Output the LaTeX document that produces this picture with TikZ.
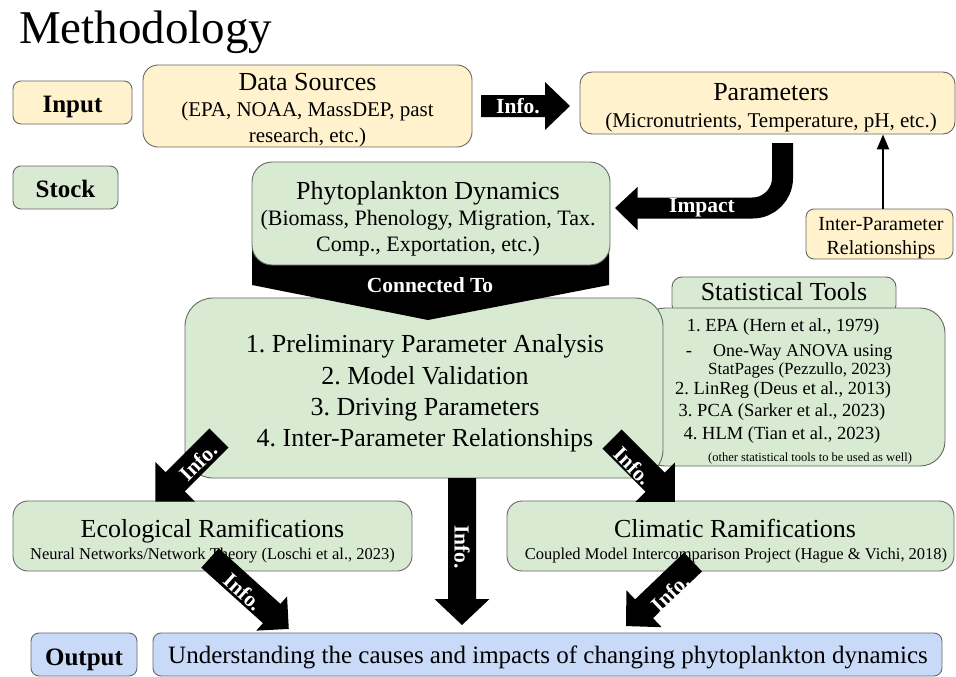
\documentclass[tikz,border=0pt]{standalone}
\usepackage{fontspec}
\setmainfont{Liberation Serif}
\usetikzlibrary{arrows.meta}
\definecolor{yel}{HTML}{FFF2CC}
\definecolor{grn}{HTML}{D9EAD3}
\definecolor{blu}{HTML}{C9DAF8}
\definecolor{bord}{HTML}{666666}
\frenchspacing
\newcommand{\fsz}[1]{\fontsize{#1}{#1}\selectfont}
% #1 start, #2 angle, #3 length, #4 shaft width, #5 head width, #6 head length
\newcommand{\blockarrow}[6]{%
 \begin{scope}[shift={#1}, rotate=#2]
 \fill[black] (0,{-#4/2}) -- ({#3-#6},{-#4/2}) -- ({#3-#6},{-#5/2}) -- (#3,0) -- ({#3-#6},{#5/2}) -- ({#3-#6},{#4/2}) -- (0,{#4/2}) -- cycle;
 \end{scope}}
\begin{document}
\begin{tikzpicture}[x=1pt,y=-1pt,
 box/.style={draw=bord, line width=0.9pt, inner sep=0pt},
 txt/.style={inner sep=0pt, anchor=base},
 wtxt/.style={inner sep=0pt, text=white, font=\fsz{21.5}\bfseries},
 lbl/.style={font=\fsz{25}\bfseries},
]
\useasboundingbox (0,0) rectangle (956,677);
\fill[white] (0,0) rectangle (956,677);

% title
\node[txt, anchor=base west, font=\fsz{47}] (title) at (19,44) {Methodology};

% top row
\node[box, fill=yel, rounded corners=8pt, minimum width=119pt, minimum height=43pt] (input) at (72.5,102.5) {};
\node[txt, lbl] (inputt) at (72.5,113) {Input};
\node[box, fill=grn, rounded corners=8pt, minimum width=105pt, minimum height=43pt] (stock) at (65.5,187.5) {};
\node[txt, lbl] (stockt) at (65.5,197) {Stock};

\node[box, fill=yel, rounded corners=15pt, minimum width=329pt, minimum height=82pt] (data) at (307.5,106) {};
\node[txt, font=\fsz{26}] (data1) at (307.5,90.5) {Data Sources};
\node[txt, font=\fsz{21}] (data2) at (307.5,117) {(EPA, NOAA, MassDEP, past};
\node[txt, font=\fsz{21}] (data3) at (307.5,142) {research, etc.)};

\node[box, fill=yel, rounded corners=12pt, minimum width=375pt, minimum height=62pt] (params) at (767.5,103) {};
\node[txt, font=\fsz{26}] (par1) at (771,100) {Parameters};
\node[txt, font=\fsz{21}] (par2) at (771,127) {(Micronutrients, Temperature, pH, etc.)};

\node[box, fill=yel, rounded corners=8pt, minimum width=147pt, minimum height=50pt] (inter) at (879.5,234) {};
\node[txt, font=\fsz{20}] (int1) at (881,230) {Inter-Parameter};
\node[txt, font=\fsz{20}] (int2) at (881,254) {Relationships};

% Info arrow data -> params
\blockarrow{(481,106)}{0}{89}{22}{48}{25}
\node[wtxt] (info0) at (518,106) {Info.};

% thin arrow inter -> params
\draw[line width=2.2pt, -{Triangle[length=15pt,width=12pt]}] ([xshift=3.5pt]inter.north) -- ([xshift=3.5pt]inter.north |- params.south);

% Impact arrow params -> phyto
\coordinate (imp1) at (782.5,143);
\coordinate (imp2) at (782.5,208);
\coordinate (imp3) at (636,208);
\draw[line width=21pt, rounded corners=30pt] (imp1) -- (imp2) -- (imp3);
\fill[black] (637.5,187) -- (615,208) -- (637.5,230) -- cycle;
\node[wtxt] (impt) at (702,208) {Impact};

% statistical tools
\node[box, fill=grn, rounded corners=10pt, minimum width=224pt, minimum height=38pt] (sthead) at (784,296) {};
\node[txt, font=\fsz{26}] (stheadt) at (784,300.5) {Statistical Tools};
\node[box, fill=grn, rounded corners=25pt, minimum width=305pt, minimum height=158pt] (stlist) at (792.5,387) {};
\node[txt, font=\fsz{18.5}] (st1) at (783,331) {1. EPA (Hern et al., 1979)};
\node[txt, font=\fsz{18.5}] (stdash) at (689,356) {-};
\node[txt, anchor=base west, font=\fsz{18}] (st1a) at (713,356) {One-Way ANOVA using};
\node[txt, anchor=base west, font=\fsz{17}] (st1b) at (708,374) {StatPages (Pezzullo, 2023)};
\node[txt, font=\fsz{18.5}] (st2) at (783,394) {2. LinReg (Deus et al., 2013)};
\node[txt, font=\fsz{18.5}] (st3) at (782,416) {3. PCA (Sarker et al., 2023)};
\node[txt, font=\fsz{18.5}] (st4) at (782,439) {4. HLM (Tian et al., 2023)};
\node[txt, font=\fsz{12.5}] (st5) at (810,461) {(other statistical tools to be used as well)};

% analysis box
\node[box, fill=grn, rounded corners=28pt, minimum width=478pt, minimum height=180pt] (analysis) at (424,388) {};

% connected-to chevron
\fill[black] (252,250) -- (609,250) -- (609,285) -- (428,320) -- (252,285) -- cycle;
\node[wtxt] (conn) at (430,285) {Connected To};

% phyto box
\node[box, fill=grn, rounded corners=20pt, minimum width=358pt, minimum height=103pt] (phyto) at (431,213.5) {};
\node[txt, font=\fsz{26}] (ph1) at (428,199) {Phytoplankton Dynamics};
\node[txt, font=\fsz{22}] (ph2) at (428,225) {(Biomass, Phenology, Migration, Tax.};
\node[txt, font=\fsz{22}] (ph3) at (428,251) {Comp., Exportation, etc.)};

% analysis text
\node[txt, font=\fsz{26}] (an1) at (425,352) {1. Preliminary Parameter Analysis};
\node[txt, font=\fsz{26}] (an2) at (425,384) {2. Model Validation};
\node[txt, font=\fsz{26}] (an3) at (425,415.5) {3. Driving Parameters};
\node[txt, font=\fsz{26}] (an4) at (425,446) {4. Inter-Parameter Relationships};

% ramifications
\node[box, fill=grn, rounded corners=15pt, minimum width=399pt, minimum height=70pt] (eco) at (212.5,536) {};
\node[txt, font=\fsz{26}] (eco1) at (212.5,537) {Ecological Ramifications};
\node[txt, font=\fsz{16.5}] (eco2) at (212.5,559) {Neural Networks/Network Theory (Loschi et al., 2023)};
\node[box, fill=grn, rounded corners=15pt, minimum width=447pt, minimum height=70pt] (clim) at (730.5,536) {};
\node[txt, font=\fsz{26}] (clim1) at (735,537) {Climatic Ramifications};
\node[txt, font=\fsz{16.5}] (clim2) at (736,559) {Coupled Model Intercomparison Project (Hague \& Vichi, 2018)};

% output
\node[box, fill=blu, rounded corners=8pt, minimum width=106pt, minimum height=43pt] (outl) at (84,654.5) {};
\node[txt, lbl] (outlt) at (84,665) {Output};
\node[box, fill=blu, rounded corners=8pt, minimum width=789pt, minimum height=43pt] (outm) at (547.5,654.5) {};
\node[txt, font=\fsz{25}] (outmt) at (548,663) {Understanding the causes and impacts of changing phytoplankton dynamics};

% info arrows
\blockarrow{(219,438)}{-135}{90}{27}{56}{28}
\node[wtxt, rotate=45] (info1) at (198,462) {Info.};
\blockarrow{(612,439)}{-45}{89}{27}{56}{28}
\node[wtxt, rotate=-45] (info2) at (633,466) {Info.};
\blockarrow{(462,478)}{-90}{147}{28}{55}{26}
\node[wtxt, rotate=-90] (info3) at (462,547) {Info.};
\blockarrow{(210,558)}{-42}{106}{26}{46}{23}
\node[wtxt, rotate=-42] (info4) at (243,592) {Info.};
\blockarrow{(693,562)}{-136.3}{92.7}{26}{51}{25}
\node[wtxt, rotate=43.7] (info5) at (670,593) {Info.};
\end{tikzpicture}
\end{document}
